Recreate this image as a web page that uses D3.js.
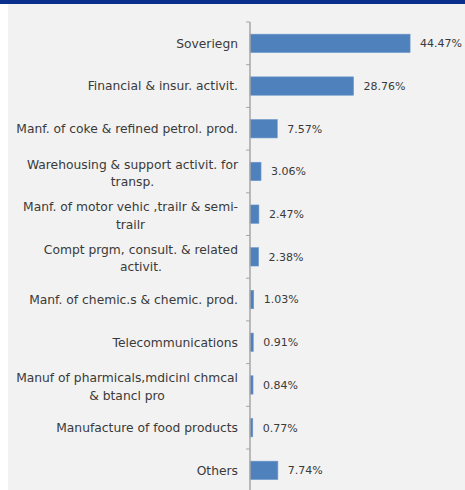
<!DOCTYPE html>
<html>
<head>
<meta charset="utf-8">
<script src="https://cdn.jsdelivr.net/npm/d3@7"></script>
<style>
  html, body { margin: 0; padding: 0; background: #fff; }
  svg { display: block; }
  .cat { font-family: "DejaVu Sans", sans-serif; font-size: 12.3px; fill: #3a3a3a; }
  .val { font-family: "DejaVu Sans", sans-serif; font-size: 11px; fill: #3a3a3a; }
</style>
</head>
<body>
<div id="chart"></div>
<script>
const W = 465;
const H = 490;
const MARGIN = { top: 22, left: 250, right: 35 };
const LABEL_RIGHT = 238;

const CATEGORIES = [
  "Soveriegn",
  "Financial & insur. activit.",
  "Manf. of coke & refined petrol. prod.",
  "Warehousing & support activit. for\ntransp.",
  "Manf. of motor vehic ,trailr & semi-\ntrailr",
  "Compt prgm, consult. & related\nactivit.",
  "Manf. of chemic.s & chemic. prod.",
  "Telecommunications",
  "Manuf of pharmicals,mdicinl chmcal\n& btancl pro",
  "Manufacture of food products",
  "Others"
];
const VALUES = [44.47, 28.76, 7.57, 3.06, 2.47, 2.38, 1.03, 0.91, 0.84, 0.77, 7.74];

const svg = d3.select("#chart").append("svg").attr("width", W).attr("height", H);

// background panels
svg.append("rect").attr("x", 8).attr("y", 0).attr("width", W - 8).attr("height", H).attr("fill", "#f2f2f2");
svg.append("rect").attr("x", 0).attr("y", 0).attr("width", W).attr("height", 4).attr("fill", "#0b2f8c");

const step = 42.7;
const y = d3.scaleBand().domain(CATEGORIES).range([MARGIN.top, MARGIN.top + step * CATEGORIES.length]).padding(0);
const x = d3.scaleLinear().domain([0, 50]).range([MARGIN.left, MARGIN.left + 180]);

const barH = y.bandwidth() * 0.43;

const data = CATEGORIES.map((c, i) => ({ cat: c, value: VALUES[i] }));

svg.append("g").selectAll("rect").data(data).join("rect")
  .attr("x", x(0))
  .attr("y", (d) => y(d.cat) + (y.bandwidth() - barH) / 2)
  .attr("width", (d) => x(d.value) - x(0))
  .attr("height", barH)
  .attr("fill", "#4f81bd")
  .attr("stroke", "#6a97cc")
  .attr("stroke-width", 0.6);

// axis line and tick marks at band boundaries
const bounds = CATEGORIES.map((c) => y(c)).concat([y.range()[1]]);
svg.append("line")
  .attr("x1", x(0)).attr("x2", x(0))
  .attr("y1", MARGIN.top).attr("y2", H)
  .attr("stroke", "#a6a6a6").attr("stroke-width", 1.5);
svg.append("g").selectAll("line").data(bounds).join("line")
  .attr("x1", x(0) - 4).attr("x2", x(0))
  .attr("y1", (d) => d).attr("y2", (d) => d)
  .attr("stroke", "#a6a6a6").attr("stroke-width", 1);

// value labels
svg.append("g").selectAll("text").data(data).join("text")
  .attr("class", "val")
  .attr("x", (d) => x(d.value) + 10)
  .attr("y", (d) => y(d.cat) + y.bandwidth() / 2)
  .attr("dy", "0.35em")
  .text((d) => d.value.toFixed(2) + "%");

// category labels: block right-aligned, lines centred to each other
const lineH = 17.5;
const cats = svg.append("g");
data.forEach((d) => {
  const lines = d.cat.split("\n");
  const t = cats.append("text").attr("class", "cat");
  const cy = y(d.cat) + y.bandwidth() / 2 + (lines.length > 1 ? 1.5 : 0);
  lines.forEach((ln, i) => {
    t.append("tspan").text(ln)
      .attr("y", cy + (i - (lines.length - 1) / 2) * lineH)
      .attr("dy", "0.35em");
  });
  const widths = t.selectAll("tspan").nodes().map((n) => n.getComputedTextLength());
  const cx = LABEL_RIGHT - d3.max(widths) / 2;
  t.attr("text-anchor", "middle").selectAll("tspan").attr("x", cx);
});
</script>
</body>
</html>
